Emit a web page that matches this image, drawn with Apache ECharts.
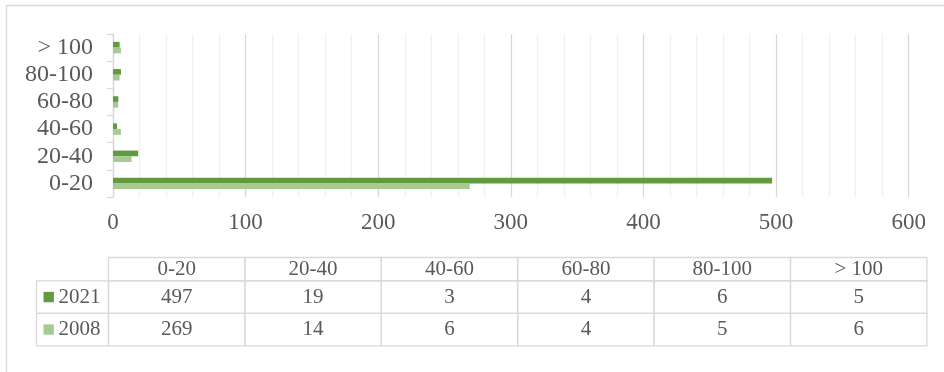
<!DOCTYPE html>
<html>
<head>
<meta charset="utf-8">
<script src="https://cdn.jsdelivr.net/npm/echarts@6/dist/echarts.min.js"></script>
<style>
  html, body { margin: 0; padding: 0; background: #fff; }
  #chart { width: 944px; height: 372px; }
</style>
</head>
<body>
<div id="chart"></div>
<script>
// Size classes (bottom to top on the value chart, left to right in the table)
const categories = ['0-20', '20-40', '40-60', '60-80', '80-100', '> 100'];
// Counts per size class
const values2021 = [497, 19, 3, 4, 6, 5];
const values2008 = [269, 14, 6, 4, 5, 6];
const seriesNames = ['2021', '2008'];
// Value axis ticks
const xTicks = [0, 100, 200, 300, 400, 500, 600];

const FONT = '"Liberation Serif", "Times New Roman", serif';
const TEXT = '#595959';
const LINE = '#d9d9d9';
const DARK = '#619b3e';
const LIGHT = '#a6ca91';
const colors = [DARK, LIGHT];
const seriesValues = [values2021, values2008];

// Data table under the chart
const tbl = { left: 108.5, colW: 136.4, top: 257.5, headH: 23.3, rowH: 32.5, keyLeft: 36.5 };
const graphics = [];
graphics.push({
  type: 'rect', silent: true, z: 0,
  shape: { x: 6.5, y: 5.5, width: 980, height: 420 },
  style: { fill: 'none', stroke: LINE, lineWidth: 1.3 }
});
categories.forEach((c, i) => {
  const x = tbl.left + i * tbl.colW;
  graphics.push({
    type: 'rect', silent: true,
    shape: { x: x, y: tbl.top, width: tbl.colW, height: tbl.headH },
    style: { fill: 'none', stroke: LINE, lineWidth: 1.3 }
  });
  graphics.push({
    type: 'text', silent: true, x: x + tbl.colW / 2, y: tbl.top + tbl.headH / 2,
    style: { text: c, fill: TEXT, font: '21px ' + FONT, align: 'center', verticalAlign: 'middle' }
  });
});
seriesNames.forEach((name, r) => {
  const y = tbl.top + tbl.headH + r * tbl.rowH;
  graphics.push({
    type: 'rect', silent: true,
    shape: { x: tbl.keyLeft, y: y, width: tbl.left - tbl.keyLeft, height: tbl.rowH },
    style: { fill: 'none', stroke: LINE, lineWidth: 1.3 }
  });
  graphics.push({
    type: 'rect', silent: true,
    shape: { x: tbl.keyLeft + 7, y: y + tbl.rowH / 2 - 5.2, width: 10.4, height: 10.4 },
    style: { fill: colors[r] }
  });
  graphics.push({
    type: 'text', silent: true, x: tbl.keyLeft + 22, y: y + tbl.rowH / 2,
    style: { text: name, fill: TEXT, font: '21px ' + FONT, align: 'left', verticalAlign: 'middle' }
  });
  seriesValues[r].forEach((v, i) => {
    const x = tbl.left + i * tbl.colW;
    graphics.push({
      type: 'rect', silent: true,
      shape: { x: x, y: y, width: tbl.colW, height: tbl.rowH },
      style: { fill: 'none', stroke: LINE, lineWidth: 1.3 }
    });
    graphics.push({
      type: 'text', silent: true, x: x + tbl.colW / 2, y: y + tbl.rowH / 2,
      style: { text: String(v), fill: TEXT, font: '21px ' + FONT, align: 'center', verticalAlign: 'middle' }
    });
  });
});

const chart = echarts.init(document.getElementById('chart'), null, { renderer: 'canvas' });
chart.setOption({
  animation: false,
  backgroundColor: '#fff',
  grid: { left: 113, right: 35.3, top: 34, height: 163, containLabel: false },
  xAxis: {
    type: 'value',
    min: xTicks[0],
    max: xTicks[xTicks.length - 1],
    interval: xTicks[1] - xTicks[0],
    axisLine: { show: false },
    axisTick: { show: false },
    axisLabel: { color: TEXT, fontFamily: FONT, fontSize: 23, margin: 14 },
    splitLine: { show: true, lineStyle: { color: LINE, width: 1.3 } },
    minorTick: { show: false, splitNumber: 5 },
    minorSplitLine: { show: true, lineStyle: { color: '#f0f0f0', width: 1.3 } }
  },
  yAxis: {
    type: 'category',
    data: categories,
    axisLine: { show: true, lineStyle: { color: LINE, width: 1.3 } },
    axisTick: { show: true, interval: 0, length: 6, lineStyle: { color: LINE, width: 1.3 } },
    axisLabel: { interval: 0, color: TEXT, fontFamily: FONT, fontSize: 24, margin: 20 },
    splitLine: { show: false }
  },
  series: seriesNames.map((name, r) => ({
    name: name,
    type: 'bar',
    data: seriesValues[r],
    itemStyle: { color: colors[r] },
    barGap: '0%',
    barCategoryGap: '58%'
  })),
  graphic: graphics
});
</script>
</body>
</html>
